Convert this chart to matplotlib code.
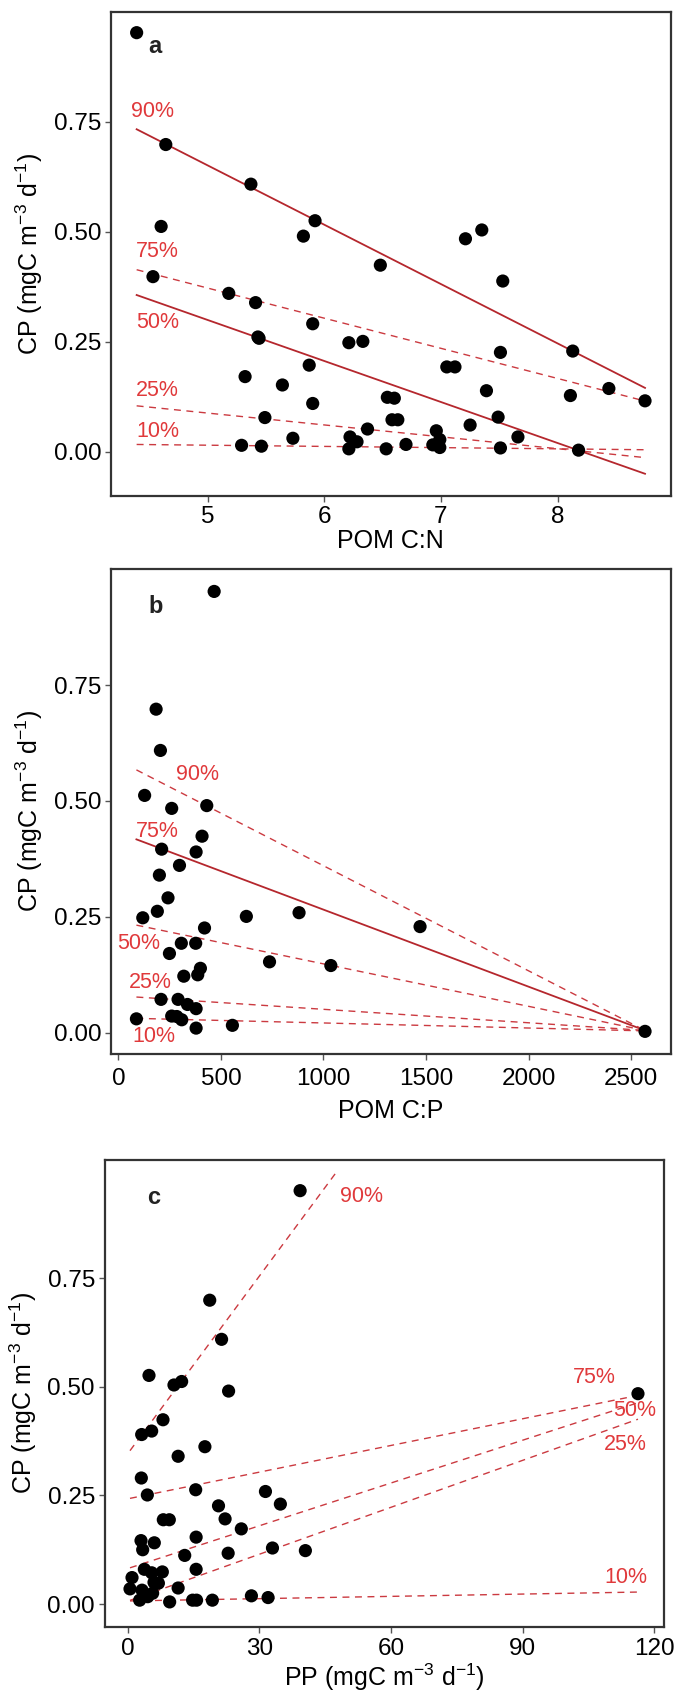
import numpy as np
import matplotlib
matplotlib.use("Agg")
import matplotlib.pyplot as plt

plt.rcParams['font.family'] = ['Liberation Sans', 'DejaVu Sans']
plt.rcParams['mathtext.fontset'] = 'custom'
plt.rcParams['mathtext.rm'] = 'Liberation Sans'
plt.rcParams['mathtext.it'] = 'Liberation Sans:italic'

# --- panel a : CP vs POM C:N ---
cn_x = [4.39, 4.64, 5.37, 4.60, 5.82, 5.92, 4.53, 5.18, 5.41, 5.90, 5.43, 5.44,
        5.87, 5.32, 5.64, 5.90, 5.49, 5.73, 5.29, 5.46, 6.48, 7.21, 7.35, 7.53,
        6.21, 6.33, 7.51, 8.13, 7.05, 7.12, 7.39, 8.11, 8.44, 8.75, 6.54, 6.60,
        6.58, 6.63, 7.49, 7.25, 6.37, 7.66, 6.96, 6.22, 6.28, 6.21, 6.53, 6.70,
        6.93, 6.99, 6.99, 7.51, 8.18]
cn_cp = [0.952, 0.698, 0.608, 0.512, 0.490, 0.525, 0.398, 0.360, 0.339, 0.291, 0.261, 0.258,
         0.197, 0.171, 0.152, 0.110, 0.078, 0.031, 0.015, 0.013, 0.424, 0.484, 0.504, 0.388,
         0.248, 0.251, 0.226, 0.229, 0.193, 0.193, 0.139, 0.128, 0.144, 0.116, 0.124, 0.122,
         0.073, 0.073, 0.079, 0.061, 0.052, 0.034, 0.048, 0.034, 0.023, 0.007, 0.007, 0.017,
         0.016, 0.028, 0.010, 0.009, 0.004]

# --- panel b : CP vs POM C:P ---
cp_x = [467, 184, 205, 128, 260, 431, 408, 211, 379, 298, 200, 242, 190, 119, 624,
        881, 420, 307, 377, 249, 737, 1036, 400, 387, 319, 208, 291, 337, 379, 260,
        285, 309, 88, 379, 556, 1471, 2568]
cp_cp = [0.952, 0.698, 0.609, 0.512, 0.484, 0.490, 0.424, 0.396, 0.390, 0.361, 0.340, 0.291,
         0.262, 0.248, 0.251, 0.259, 0.226, 0.193, 0.193, 0.171, 0.153, 0.145, 0.139, 0.125,
         0.122, 0.072, 0.072, 0.061, 0.052, 0.036, 0.035, 0.028, 0.030, 0.010, 0.016, 0.229,
         0.003]

# --- panel c : CP vs PP ---
pp_x = [39.3, 18.7, 21.4, 4.86, 10.55, 12.3, 23.0, 8.05, 3.19, 5.47, 17.6, 11.5, 3.11,
        4.48, 15.5, 31.4, 34.8, 20.7, 22.2, 8.12, 9.49, 25.9, 3.04, 6.07, 15.6, 3.42,
        33.0, 40.5, 13.0, 22.9, 15.6, 3.8, 5.47, 7.9, 0.99, 6.0, 7.0, 11.5, 0.53, 3.27,
        5.69, 4.56, 2.73, 9.57, 14.8, 15.7, 19.3, 28.2, 32.0, 116.3]
pp_cp = [0.951, 0.699, 0.609, 0.526, 0.504, 0.512, 0.490, 0.424, 0.390, 0.398, 0.362, 0.340,
         0.290, 0.251, 0.263, 0.259, 0.230, 0.226, 0.196, 0.194, 0.194, 0.173, 0.146, 0.141,
         0.154, 0.125, 0.129, 0.123, 0.112, 0.117, 0.080, 0.080, 0.072, 0.074, 0.061, 0.050,
         0.048, 0.037, 0.035, 0.032, 0.025, 0.017, 0.009, 0.005, 0.009, 0.009, 0.009, 0.019,
         0.015, 0.484]

# quantile regression fits (tau: 10, 25, 50, 75, 90)
taus = ["10%", "25%", "50%", "75%", "90%"]
a_int = [0.029, 0.223, 0.765, 0.714, 1.324]
a_slope = [-0.00275, -0.02696, -0.0931, -0.0684, -0.1347]
a_solid = [False, False, True, False, True]
b_int = [0.032, 0.0796, 0.2402, 0.4318, 0.587]
b_slope = [-0.00001089, -0.00002904, -0.0000916, -0.0001662, -0.0002267]
b_solid = [False, False, False, True, False]
c_int = [0.0072, 0.0066, 0.0817, 0.2421, 0.3457]
c_slope = [0.000176, 0.0036, 0.00328, 0.002046, 0.01362]
c_xend = [116.3, 116.3, 116.3, 116.3, 47.3]
c_solid = [False, False, False, False, False]

# label positions (data coords)
a_lab = [(4.385, 0.046), (4.385, 0.140), (4.385, 0.293), (4.385, 0.455), (4.34, 0.774)]
b_lab = [(172, -0.009), (154, 0.108), (101, 0.193), (192, 0.435), (385, 0.558)]
c_lab = [(113.5, 0.062), (113.3, 0.366), (115.6, 0.445), (106.3, 0.522), (53.3, 0.937)]

red_txt = "#E0393B"
red_solid = "#B5272D"
red_dash = "#CB3A40"

fig = plt.figure(figsize=(6.78, 16.95), dpi=100)
ax_a = fig.add_axes([0.1637, 0.7074, 0.8255, 0.2858])
ax_b = fig.add_axes([0.1637, 0.3784, 0.8255, 0.2858])
ax_c = fig.add_axes([0.1544, 0.0403, 0.8254, 0.2752])


def draw_panel(ax, x, y, ints, slopes, solid, labs, xend=None, lab_ha="center"):
    x = np.array(x)
    for i in range(len(taus)):
        x0 = x.min()
        x1 = x.max() if xend is None else xend[i]
        xs = np.array([x0, x1])
        ys = ints[i] + slopes[i] * xs
        if solid[i]:
            ax.plot(xs, ys, color=red_solid, lw=1.3, zorder=2)
        else:
            ax.plot(xs, ys, color=red_dash, lw=1.0, dashes=(5, 4), zorder=2)
        ax.text(labs[i][0], labs[i][1], taus[i], color=red_txt, fontsize=15.5,
                ha=lab_ha, va="center")
    ax.scatter(x, y, s=90, color="black", edgecolors="none", zorder=3)
    for s in ax.spines.values():
        s.set_linewidth(1.6)
        s.set_color("#333333")
    ax.tick_params(labelsize=17.5, length=4, width=1, color="#555555", pad=3)
    ax.set_yticks([0, 0.25, 0.5, 0.75])
    ax.set_yticklabels(["0.00", "0.25", "0.50", "0.75"])
    ax.set_ylabel("CP (mgC m$^{\\mathregular{-3}}$ d$^{\\mathregular{-1}}$)", fontsize=18, labelpad=6)


draw_panel(ax_a, cn_x, cn_cp, a_int, a_slope, a_solid, a_lab, lab_ha="left")
ax_a.set_xlim(4.17, 8.97)
ax_a.set_ylim(-0.1, 1.0)
ax_a.set_xticks([5, 6, 7, 8])
ax_a.set_xlabel("POM C:N", fontsize=18, labelpad=1)
ax_a.text(0.079, 0.928, "a", transform=ax_a.transAxes, fontsize=17, fontweight="bold",
          ha="center", va="center", color="#222222")

draw_panel(ax_b, cp_x, cp_cp, b_int, b_slope, b_solid, b_lab)
ax_b.set_xlim(-36, 2693)
ax_b.set_ylim(-0.045, 1.0)
ax_b.set_xticks([0, 500, 1000, 1500, 2000, 2500])
ax_b.tick_params(axis="x", pad=6)
ax_b.set_xlabel("POM C:P", fontsize=18, labelpad=7)
ax_b.text(0.079, 0.923, "b", transform=ax_b.transAxes, fontsize=17, fontweight="bold",
          ha="center", va="center", color="#222222")

draw_panel(ax_c, pp_x, pp_cp, c_int, c_slope, c_solid, c_lab, xend=c_xend)
ax_c.set_xlim(-5.24, 122.3)
ax_c.set_ylim(-0.052, 1.021)
ax_c.set_xticks([0, 30, 60, 90, 120])
ax_c.tick_params(axis="x", pad=4)
ax_c.set_xlabel("PP (mgC m$^{\\mathregular{-3}}$ d$^{\\mathregular{-1}}$)", fontsize=18, labelpad=1)
ax_c.text(0.088, 0.920, "c", transform=ax_c.transAxes, fontsize=17, fontweight="bold",
          ha="center", va="center", color="#222222")

plt.savefig("out.png", dpi=100)
